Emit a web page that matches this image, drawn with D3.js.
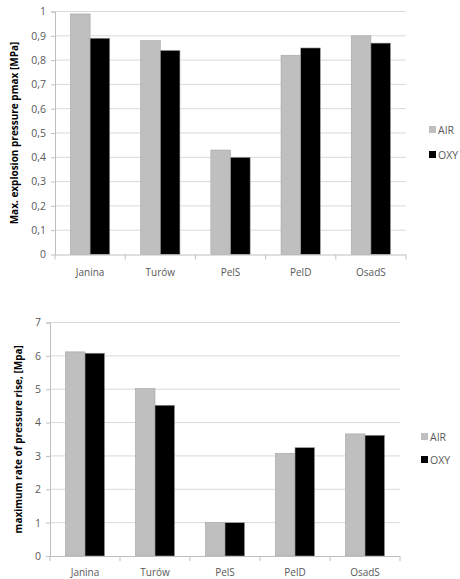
<!DOCTYPE html>
<html><head><meta charset="utf-8">
<script src="https://cdn.jsdelivr.net/npm/d3@7/dist/d3.min.js"></script>
<style>
body{margin:0;background:#fff;}
svg{display:block;}
text{font-family:"Open Sans",Lato,sans-serif;}
</style></head>
<body><svg id="c" width="460" height="579"></svg>
<script>
const categories = ["Janina","Turów","PelS","PelD","OsadS"];
const seriesNames = ["AIR","OXY"];
const pmaxAIR = [0.99,0.88,0.43,0.82,0.90];
const pmaxOXY = [0.89,0.84,0.40,0.85,0.87];
const rateAIR = [6.12,5.02,1.0,3.08,3.66];
const rateOXY = [6.08,4.52,1.0,3.25,3.62];
const pmaxTicks = [0,0.1,0.2,0.3,0.4,0.5,0.6,0.7,0.8,0.9,1];
const rateTicks = [0,1,2,3,4,5,6,7];
const colors = {AIR:"#bfbfbf", OXY:"#000000"};

const svg = d3.select("#c");

function chart(cfg){
  const g = svg.append("g");
  const x = d3.scaleBand().domain(categories).range([cfg.x0,cfg.x1]).paddingInner(0.44).paddingOuter(0.22);
  const xs = d3.scaleBand().domain(seriesNames).range([0,x.bandwidth()]);
  const y = d3.scaleLinear().domain(cfg.domain).range([cfg.y0,cfg.y1]);
  // grid
  g.selectAll("line.grid").data(cfg.ticks.filter(t=>t!==0)).enter().append("line")
    .attr("x1",cfg.x0).attr("x2",cfg.x1).attr("y1",d=>y(d)).attr("y2",d=>y(d))
    .attr("stroke","#d9d9d9").attr("stroke-width",1);
  // bars
  const data = categories.map((c,i)=>({c, vals:[{s:"AIR",v:cfg.a[i]},{s:"OXY",v:cfg.b[i]}]}));
  const grp = g.selectAll("g.cat").data(data).enter().append("g").attr("transform",d=>`translate(${x(d.c)},0)`);
  grp.selectAll("rect").data(d=>d.vals).enter().append("rect")
    .attr("x",d=>xs(d.s)).attr("width",xs.bandwidth())
    .attr("y",d=>y(d.v)).attr("height",d=>y(0)-y(d.v))
    .attr("fill",d=>colors[d.s]).attr("stroke","#a6a6a6").attr("stroke-width",0.6);
  // y axis
  const ya = d3.axisLeft(y).tickValues(cfg.ticks).tickSize(4).tickPadding(5)
    .tickFormat(d=>String(d).replace(".",","));
  const yg = g.append("g").attr("transform",`translate(${cfg.x0},0)`).call(ya);
  yg.select(".domain").attr("stroke","#bfbfbf").attr("d",`M-4,${cfg.y1 + 0.5}H0.5V${cfg.y0}`);
  yg.selectAll(".tick line").attr("stroke","#bfbfbf");
  yg.selectAll("text").attr("fill","#595959").style("font-size","10.5px").style("font-family","'Open Sans',sans-serif");
  // x axis
  const xg = g.append("g").attr("transform",`translate(0,${cfg.y0})`);
  xg.append("line").attr("x1",cfg.x0).attr("x2",cfg.x1).attr("y1",0.5).attr("y2",0.5).attr("stroke","#bfbfbf");
  const edges = categories.map(c=>x(c)-x.step()*x.paddingInner()/2).concat([cfg.x1]);
  xg.selectAll("line.t").data(edges).enter().append("line")
    .attr("x1",d=>d).attr("x2",d=>d).attr("y1",0).attr("y2",5).attr("stroke","#bfbfbf");
  xg.selectAll("text.cat").data(categories).enter().append("text").attr("class","cat")
    .attr("x",d=>x(d)+x.bandwidth()/2).attr("y",cfg.catDy)
    .attr("text-anchor","middle").attr("fill","#595959").style("font-size","10px").text(d=>d);
  // y label
  g.append("text").attr("transform",`translate(${cfg.labX},${(cfg.y0+cfg.y1)/2}) rotate(-90)`)
    .attr("text-anchor","middle").attr("fill","#000").style("font-size","10px").style("font-weight","bold")
    .text(cfg.label);
  // legend
  seriesNames.forEach((s,i)=>{
    const ly = cfg.legY + i*cfg.legGap;
    g.append("rect").attr("x",cfg.legX).attr("y",ly-4).attr("width",7).attr("height",7).attr("fill",colors[s]);
    g.append("text").attr("x",cfg.legX+9).attr("y",ly+4).attr("fill","#595959").style("font-size","10.5px").text(s);
  });
}

chart({x0:55,x1:406,y0:254.5,y1:11.5,domain:[0,1],ticks:pmaxTicks,a:pmaxAIR,b:pmaxOXY,
  label:"Max. explosion pressure pmax [MPa]",labX:18,catDy:21,legX:429,legY:130,legGap:25});
chart({x0:50,x1:400,y0:556,y1:322.5,domain:[0,7],ticks:rateTicks,a:rateAIR,b:rateOXY,
  label:"maximum rate of pressure rise, [Mpa]",labX:22,catDy:20,legX:421,legY:437,legGap:23});
</script></body></html>
